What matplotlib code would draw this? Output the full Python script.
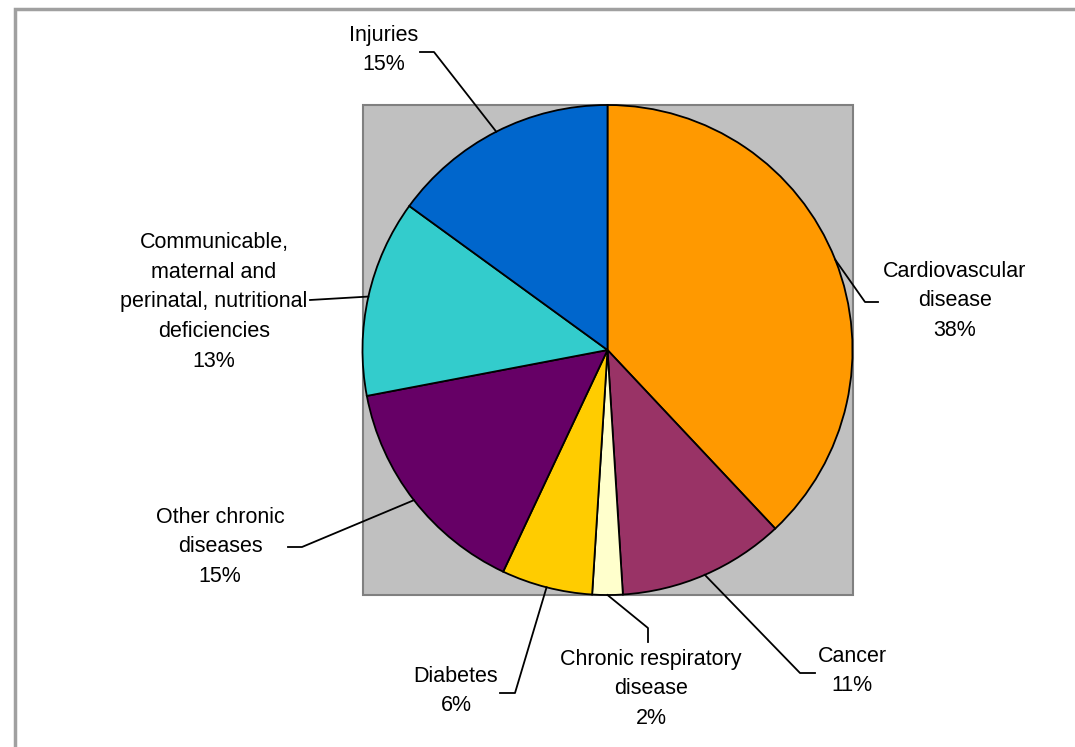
import numpy as np
import matplotlib.pyplot as plt
from matplotlib.patches import Rectangle

# Share of deaths by cause
labels = ['Cardiovascular\ndisease', 'Cancer', 'Chronic respiratory\ndisease', 'Diabetes',
          'Other chronic\ndiseases', 'Communicable,\nmaternal and\nperinatal, nutritional\ndeficiencies',
          'Injuries']
shares = [38, 11, 2, 6, 15, 13, 15]
colors = ['#FF9900', '#993366', '#FFFFCC', '#FFCC00', '#660066', '#33CCCC', '#0066CC']

# layout in pixels (y measured from top of the image)
W, H = 1075, 747
cx, cy, r = 607.5, 350, 245
# label block centres and leader line elbows
text_pos = [(955, 301), (852, 671), (651, 689), (456, 691), (220, 547), (214, 302), (384, 50)]
elbows = [[(865, 302), (878, 302)],
          [(800, 673), (815, 673)],
          [(648, 628), (648, 642)],
          [(515, 693), (500, 693)],
          [(302, 547), (288, 547)],
          [(310, 300)],
          [(434, 52), (420, 52)]]

plt.rcParams['font.family'] = ['Liberation Sans', 'DejaVu Sans']

fig = plt.figure(figsize=(W / 100, H / 100), dpi=100)
ax = fig.add_axes([0, 0, 1, 1])

# plot area
ax.add_patch(Rectangle((cx - r, H - cy - r), 2 * r, 2 * r, facecolor='#C0C0C0',
                       edgecolor='#808080', linewidth=1.5, zorder=0))

wedges, _ = ax.pie(shares, colors=colors, startangle=90, counterclock=False,
                   center=(cx, H - cy), radius=r,
                   wedgeprops=dict(edgecolor='black', linewidth=1.3))

# labels with leader lines from the middle of each wedge edge
start = 0
for i, (lab, val) in enumerate(zip(labels, shares)):
    mid = (start + val / 2) / 100 * 2 * np.pi
    start += val
    ex, ey = cx + r * np.sin(mid), cy - r * np.cos(mid)
    pts = [(ex, ey)] + elbows[i]
    ax.plot([p[0] for p in pts], [H - p[1] for p in pts], color='black', lw=1.3, zorder=5)
    tx, ty = text_pos[i]
    ax.text(tx, H - ty, f'{lab}\n{val}%', ha='center', va='center', fontsize=15.5,
            linespacing=1.55, color='black')

# outer chart frame (top and left edges visible)
ax.plot([15, 15, W], [0, H - 9, H - 9], color='#A0A0A0', lw=2.5, solid_joinstyle='miter')

ax.set_xlim(0, W)
ax.set_ylim(0, H)
ax.set_aspect('auto')
ax.axis('off')

fig.savefig('out.png', dpi=100)
